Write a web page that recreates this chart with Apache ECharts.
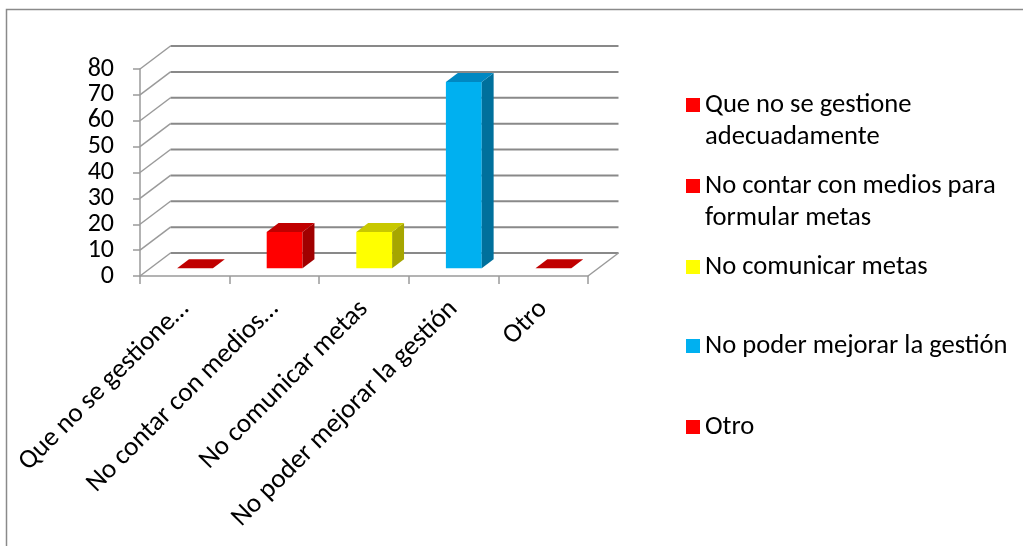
<!DOCTYPE html>
<html>
<head>
<meta charset="utf-8">
<script src="https://cdn.jsdelivr.net/npm/echarts@6/dist/echarts.min.js"></script>
<style>
  html, body { margin: 0; padding: 0; background: #ffffff; }
  #chart { width: 1023px; height: 546px; }
</style>
</head>
<body>
<div id="chart"></div>
<script>
// Survey answers (percent of respondents)
const categories = [
  'Que no se gestione adecuadamente',
  'No contar con medios para formular metas',
  'No comunicar metas',
  'No poder mejorar la gestión',
  'Otro'
];
const axisLabels = [
  'Que no se gestione…',
  'No contar con medios…',
  'No comunicar metas',
  'No poder mejorar la gestión',
  'Otro'
];
const legendLabels = [
  'Que no se gestione\nadecuadamente',
  'No contar con medios para\nformular metas',
  'No comunicar metas',
  'No poder mejorar la gestión',
  'Otro'
];
const values = [0, 14, 14, 72, 0];
const yTicks = [0, 10, 20, 30, 40, 50, 60, 70, 80];

// Face shading per bar: front, top, side
const frontColors = ['#FF0000', '#FF0000', '#FFFF00', '#00B0F0', '#FF0000'];
const topColors   = ['#C00000', '#C00000', '#C8C800', '#0088C2', '#C00000'];
const sideColors  = ['#A00000', '#A00000', '#A6A600', '#00709C', '#A00000'];

// Oblique projection of the depth axis (screen px for full floor depth)
const DEPTH = [30.5, -23];
const BAR_D0 = 0.335, BAR_D1 = 0.725;   // bar occupies this slice of the depth
const BAR_W = 0.4;                       // fraction of category width
const FONT = 'Carlito, Lato, "Liberation Sans", sans-serif';
const GRID_COLOR = '#898989';
const EDGE_COLOR = '#9a9a9a';
const LEGEND_LINE = 32;

function renderWall(params, api) {
  const cs = params.coordSys;
  const v = api.value(1);
  const y = api.coord([0, v])[1];
  const left = cs.x, right = cs.x + cs.width;
  const children = [
    { type: 'line', shape: { x1: left, y1: y, x2: left + DEPTH[0], y2: y + DEPTH[1] },
      style: { stroke: EDGE_COLOR, lineWidth: 1.5 } },
    { type: 'line', shape: { x1: left + DEPTH[0], y1: y + DEPTH[1], x2: right + DEPTH[0], y2: y + DEPTH[1] },
      style: { stroke: GRID_COLOR, lineWidth: 2 } }
  ];
  if (v === 0) {
    children.push({ type: 'line', shape: { x1: right, y1: y, x2: right + DEPTH[0], y2: y + DEPTH[1] },
      style: { stroke: EDGE_COLOR, lineWidth: 1.5 } });
  }
  return { type: 'group', children };
}

function makeBarRenderer(idx) {
  return function (params, api) {
    const i = api.value(0), v = api.value(1);
    const base = api.coord([i, 0]);
    const tip = api.coord([i, v]);
    const bw = api.size([1, 0])[0] * BAR_W;
    const ox = DEPTH[0] * BAR_D0, oy = DEPTH[1] * BAR_D0;
    const dx = DEPTH[0] * (BAR_D1 - BAR_D0), dy = DEPTH[1] * (BAR_D1 - BAR_D0);
    const fl = base[0] - bw / 2 + ox, fr = base[0] + bw / 2 + ox;
    const yb = base[1] + oy, yt = tip[1] + oy;
    const children = [];
    if (v > 0) {
      children.push({ type: 'polygon',
        shape: { points: [[fl, yb], [fr, yb], [fr, yt], [fl, yt]] },
        style: { fill: frontColors[idx] } });
      children.push({ type: 'polygon',
        shape: { points: [[fr, yt], [fr, yb], [fr + dx, yb + dy], [fr + dx, yt + dy]] },
        style: { fill: sideColors[idx] } });
    }
    children.push({ type: 'polygon',
      shape: { points: [[fl, yt], [fr, yt], [fr + dx, yt + dy], [fl + dx, yt + dy]] },
      style: { fill: topColors[idx] } });
    return { type: 'group', children };
  };
}

const barSeries = categories.map((name, i) => ({
  type: 'custom',
  name: name,
  data: [[i, values[i]]],
  encode: { x: 0, y: 1 },
  itemStyle: { color: frontColors[i] },
  renderItem: makeBarRenderer(i),
  z: 5
}));

// One legend block per entry; the marker sits beside the first text line.
// A blank leading line keeps a two-line label's first line level with its marker.
const legendMarkerTops = [98, 179, 260, 339, 420];
const legends = categories.map((name, i) => {
  const twoLine = legendLabels[i].indexOf('\n') >= 0;
  const shownText = twoLine ? '\n' + legendLabels[i] : legendLabels[i];
  const lines = twoLine ? 3 : 1;
  const lift = lines * LEGEND_LINE / 2 - 7;
  return {
    data: [name],
    left: 686,
    top: legendMarkerTops[i] - lift,
    orient: 'vertical',
    padding: 0,
    icon: 'rect',
    itemWidth: 14,
    itemHeight: 14,
    selectedMode: false,
    formatter: () => shownText,
    textStyle: {
      fontFamily: FONT,
      fontSize: 26.6,
      color: '#000',
      lineHeight: LEGEND_LINE
    }
  };
});

const chart = echarts.init(document.getElementById('chart'), null, { renderer: 'canvas' });
chart.setOption({
  animation: false,
  backgroundColor: '#ffffff',
  graphic: [{
    type: 'rect',
    shape: { x: 6.5, y: 9.5, width: 1100, height: 600 },
    style: { fill: 'none', stroke: '#8a8a8a', lineWidth: 1.5 },
    silent: true
  }],
  grid: { left: 140, right: 435, top: 69, bottom: 270 },
  legend: legends,
  xAxis: {
    type: 'category',
    data: axisLabels,
    axisLine: { show: true, lineStyle: { color: EDGE_COLOR, width: 1.5 } },
    axisTick: { show: true, length: 8, lineStyle: { color: EDGE_COLOR, width: 1.5 } },
    axisLabel: { interval: 0, rotate: 45, margin: 29, fontSize: 27, fontFamily: FONT, color: '#000' },
    splitLine: { show: false }
  },
  yAxis: {
    type: 'value',
    min: 0,
    max: 80,
    interval: 10,
    axisLine: { show: true, lineStyle: { color: EDGE_COLOR, width: 1.5 } },
    axisTick: { show: true, length: 7, lineStyle: { color: EDGE_COLOR, width: 1.5 } },
    axisLabel: { margin: 26, fontSize: 26, fontFamily: FONT, color: '#000' },
    splitLine: { show: false }
  },
  series: [{
    type: 'custom',
    data: yTicks.map(v => [0, v]),
    encode: { x: 0, y: 1 },
    renderItem: renderWall,
    silent: true,
    z: 1
  }].concat(barSeries)
});
</script>
</body>
</html>
